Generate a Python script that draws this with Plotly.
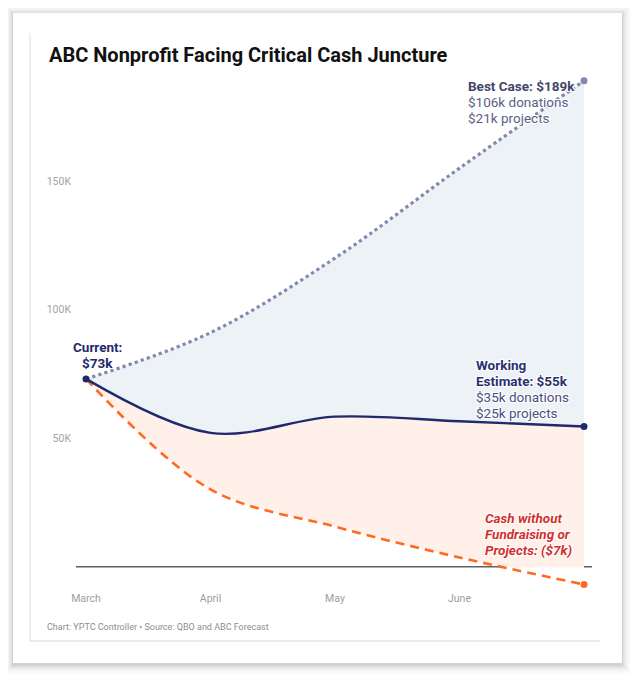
import plotly.graph_objects as go

# ---- data ----
months = ["March", "April", "May", "June", "July"]
tick_months = ["March", "April", "May", "June"]
best_case = [73, 91, 120, 155, 189]          # $k
working_est = [73, 52, 58.3, 56.5, 54.5]     # $k
no_fundraising = [73, 30, 15.5, 3.5, -7]     # $k
y_tick_vals = [50, 100, 150]
y_tick_text = ["50K", "100K", "150K"]

xs = list(range(len(months)))

# ---- layout geometry (page pixels; the page body has an 8px margin) ----
OFF = 8
W, H = 638 - 2 * OFF, 684 - 2 * OFF
L, R, T, B = 76, 592, 70, 586          # plot area in page pixels
PXK = 2.57
ZERO_PY = 566.5
YMAX = (ZERO_PY - T) / PXK
YMIN = (ZERO_PY - B) / PXK
PXM = 124.5
X0_PX = 86
XMIN = (L - X0_PX) / PXM
XMAX = (R - X0_PX) / PXM


def px(xp):
    return (xp - L) / (R - L)


def py(yp):
    return (B - yp) / (B - T)


FONT = "Roboto, 'Open Sans', sans-serif"
NAVY = "#1f2a6c"
BEST = "#8487ae"
ORANGE = "#ff6a22"
BLUE_FILL = "#edf2f7"
PINK_FILL = "#fff0ea"
HALO = "white 1px 1px 0px, white -1px -1px 0px, white 1px -1px 0px, white -1px 1px 0px"

fig = go.Figure()

# fills
fig.add_trace(go.Scatter(x=xs, y=working_est, mode="lines", line=dict(width=0, shape="spline"),
                         hoverinfo="skip", showlegend=False))
fig.add_trace(go.Scatter(x=xs, y=best_case, mode="lines", line=dict(width=0, shape="spline"),
                         fill="tonexty", fillcolor=BLUE_FILL, hoverinfo="skip", showlegend=False))
fig.add_trace(go.Scatter(x=xs, y=no_fundraising, mode="lines", line=dict(width=0, shape="spline"),
                         hoverinfo="skip", showlegend=False))
fig.add_trace(go.Scatter(x=xs, y=working_est, mode="lines", line=dict(width=0, shape="spline"),
                         fill="tonexty", fillcolor=PINK_FILL, hoverinfo="skip", showlegend=False))
# mask the fill below zero
fig.add_trace(go.Scatter(x=[XMIN, XMAX, XMAX, XMIN], y=[-0.35, -0.35, YMIN - 5, YMIN - 5],
                         mode="lines", fill="toself", fillcolor="white", line=dict(width=0),
                         hoverinfo="skip", showlegend=False))

# lines
fig.add_trace(go.Scatter(x=xs, y=best_case, mode="lines",
                         line=dict(color=BEST, width=3.2, dash="dot", shape="spline"),
                         showlegend=False))
fig.add_trace(go.Scatter(x=xs, y=no_fundraising, mode="lines",
                         line=dict(color=ORANGE, width=2.6, dash="9px,6px", shape="spline"),
                         showlegend=False))
fig.add_trace(go.Scatter(x=xs, y=working_est, mode="lines",
                         line=dict(color=NAVY, width=2.4, shape="spline"),
                         showlegend=False))
# end / start markers
fig.add_trace(go.Scatter(x=[xs[0], xs[-1], xs[-1], xs[-1]],
                         y=[working_est[0], best_case[-1], working_est[-1], no_fundraising[-1]],
                         mode="markers", cliponaxis=False,
                         marker=dict(size=7, color=[NAVY, BEST, NAVY, ORANGE]),
                         showlegend=False))

shapes = []
# card shadow (soft, slightly offset downward)
card = (13, 13, 622, 663)
for grow, alpha in [(10, 0.008), (8, 0.014), (6, 0.022), (4, 0.032), (2.5, 0.045), (1, 0.06)]:
    shapes.append(dict(type="rect", xref="paper", yref="paper", layer="below",
                       x0=px(card[0] - grow), x1=px(card[2] + grow),
                       y0=py(card[3] + grow + 2), y1=py(card[1] - grow + 1),
                       fillcolor=f"rgba(0,0,0,{alpha})", line=dict(width=0)))
shapes.append(dict(type="rect", xref="paper", yref="paper", layer="below",
                   x0=px(card[0]), x1=px(card[2]), y0=py(card[3]), y1=py(card[1]),
                   fillcolor="white", line=dict(width=0)))
# inner box lines (left, bottom)
shapes.append(dict(type="line", xref="paper", yref="paper", layer="below",
                   x0=px(30), x1=px(30), y0=py(33), y1=py(641),
                   line=dict(color="#e4e4e4", width=1.2)))
shapes.append(dict(type="line", xref="paper", yref="paper", layer="below",
                   x0=px(30), x1=px(600), y0=py(641), y1=py(641),
                   line=dict(color="#e4e4e4", width=1.5)))

ann = []


def text(xp, yp, s, size=13.5, color=NAVY, bold=False, italic=False, anchor="left", halo=True):
    f = dict(family=FONT, size=size, color=color)
    if bold:
        f["weight"] = 700
    if italic:
        f["style"] = "italic"
    if halo:
        f["shadow"] = HALO
    ann.append(dict(xref="paper", yref="paper", x=px(xp), y=py(yp), text=s, showarrow=False,
                    xanchor=anchor, yanchor="middle", font=f))


text(47, 55, "ABC Nonprofit Facing Critical Cash Juncture", size=20, color="#111111", bold=True, halo=False)
text(45, 627, "Chart: YPTC Controller • Source: QBO and ABC Forecast", size=9, color="#8e8e8e", halo=False)

text(97, 347, "Current:", bold=True, anchor="center")
text(97, 363, "$73k", bold=True, anchor="center")

text(466, 86, "Best Case: $189k", bold=True, color="#434766")
text(466, 102, "$106k donations", color="#5d6183")
text(466, 118, "$21k projects", color="#5d6183")

text(474, 365, "Working", bold=True, color="#2a3170")
text(474, 381, "Estimate: $55k", bold=True, color="#2a3170")
text(474, 397, "$35k donations", color="#4a5082")
text(474, 413, "$25k projects", color="#4a5082")

RED = "#d32f2f"
text(483, 518, "Cash without", bold=True, italic=True, color=RED)
text(483, 534, "Fundraising or", bold=True, italic=True, color=RED)
text(483, 550, "Projects: ($7k)", bold=True, italic=True, color=RED)

fig.update_layout(
    width=W, height=H,
    margin=dict(l=L - OFF, r=(W + OFF) - R, t=T - OFF, b=(H + OFF) - B, pad=0),
    paper_bgcolor="white", plot_bgcolor="rgba(0,0,0,0)",
    font=dict(family=FONT),
    shapes=shapes, annotations=ann,
    xaxis=dict(range=[XMIN, XMAX], showgrid=False, zeroline=False, showline=False,
               tickvals=xs[:len(tick_months)], ticktext=tick_months, ticks="",
               tickfont=dict(family=FONT, size=10.5, color="#9d9d9d"), ticklabelstandoff=4,
               fixedrange=True),
    yaxis=dict(range=[YMIN, YMAX], showgrid=False, showline=False,
               zeroline=True, zerolinecolor="#5f5f5f", zerolinewidth=1.5,
               tickvals=y_tick_vals, ticktext=y_tick_text, ticks="",
               tickfont=dict(family=FONT, size=10.5, color="#a3a3a3"), ticklabelstandoff=4,
               fixedrange=True),
    showlegend=False,
)

fig.write_html("out.html")
